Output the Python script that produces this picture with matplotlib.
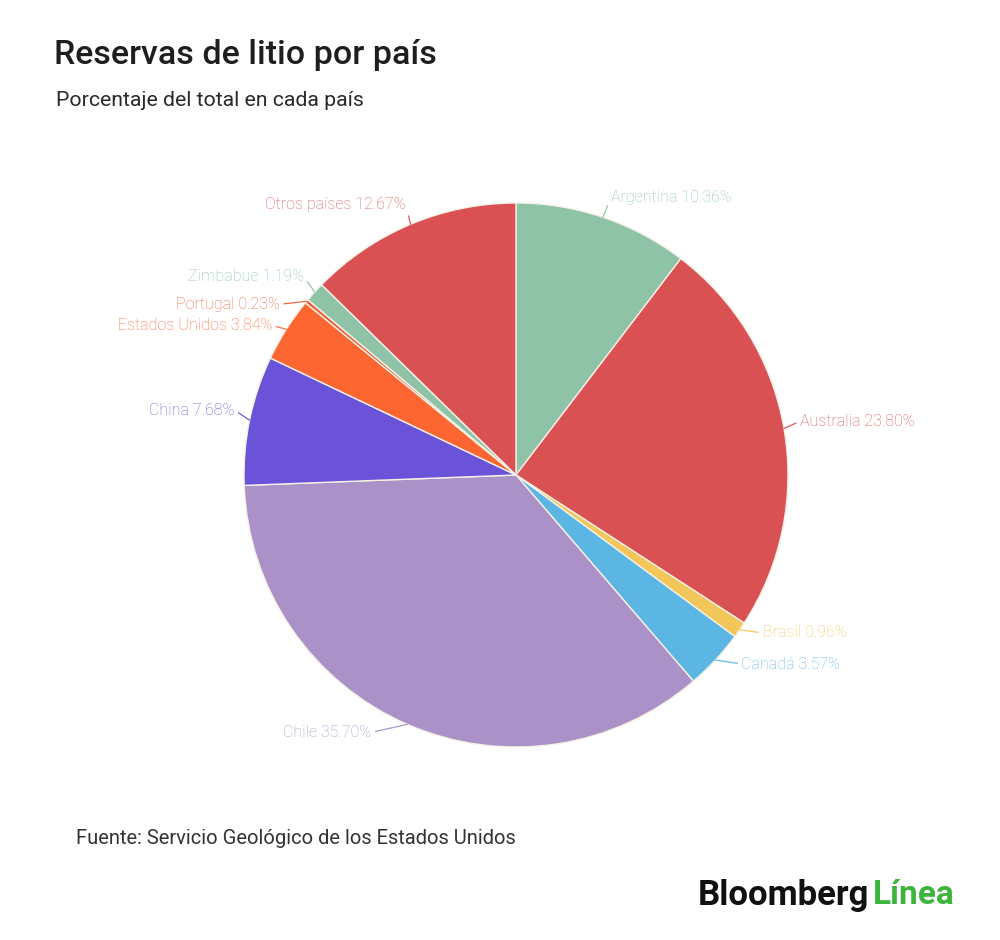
import numpy as np
import matplotlib
matplotlib.use('Agg')
import matplotlib.pyplot as plt
from matplotlib.colors import to_rgb

# Datos: porcentaje de reservas de litio por país
countries = ['Argentina', 'Australia', 'Brasil', 'Canadá', 'Chile', 'China',
             'Estados Unidos', 'Portugal', 'Zimbabue', 'Otros países']
shares = [10.36, 23.80, 0.96, 3.57, 35.70, 7.68, 3.84, 0.23, 1.19, 12.67]

colors = ['#8ec3a7', '#d95153', '#f3c65a', '#5cb6e4', '#aa91c7', '#6a52d9',
          '#fd6631', '#e8613a', '#8ec3a7', '#d95153']

# Desplazamiento de cada etiqueta respecto al borde (px)
label_offsets = [(8, 20), (16, 7), (23, -3), (26, -4), (-36, -8), (-15, 10),
                 (-14, 4), (-27, -3), (-11, 16), (-5, 20)]


def lighten(c, amount=0.2):
    r, g, b = to_rgb(c)
    return (r + (1 - r) * amount, g + (1 - g) * amount, b + (1 - b) * amount)


plt.rcParams['font.family'] = ['Roboto', 'DejaVu Sans']

fig = plt.figure(figsize=(10, 9.4), dpi=100)
fig.patch.set_facecolor('white')

cx, cy, r = 516, 475, 272
ax = fig.add_axes([(cx - r) / 1000, 1 - (cy + r) / 940, 2 * r / 1000, 2 * r / 940])
wedges, _ = ax.pie(shares, colors=colors, startangle=90, counterclock=False,
                   wedgeprops=dict(edgecolor='#f6f0e6', linewidth=1.0))
ax.set_xlim(-1, 1)
ax.set_ylim(-1, 1)
ax.set_aspect('equal')
ax.axis('off')

for w, name, val, col, (dx, dy) in zip(wedges, countries, shares, colors, label_offsets):
    ang = np.deg2rad((w.theta1 + w.theta2) / 2)
    x, y = np.cos(ang), np.sin(ang)
    ha = 'left' if dx > 0 else 'right'
    tc = lighten(col, 0.05)
    ax.annotate(f'{name} {val:.2f}%', xy=(x, y), xytext=(dx, dy),
                textcoords='offset pixels', ha=ha, va='center',
                fontsize=11.5, fontweight='light', color=tc,
                arrowprops=dict(arrowstyle='-', color=tc, lw=0.9,
                                shrinkA=1, shrinkB=0,
                                relpos=(0, 0.5) if ha == 'left' else (1, 0.5)))

fig.text(0.054, 1 - 55 / 940, 'Reservas de litio por país', fontsize=24.5,
         fontweight='medium', color='#1e1e1e', va='center')
fig.text(0.056, 1 - 101 / 940, 'Porcentaje del total en cada país', fontsize=15.3,
         color='#2a2a2a', va='center')
fig.text(0.076, 1 - 838 / 940, 'Fuente: Servicio Geológico de los Estados Unidos',
         fontsize=14.5, color='#333333', va='center')

fig.text(0.869, 1 - 895 / 940, 'Bloomberg', fontsize=25, fontweight='bold',
         color='#111111', ha='right', va='center')
fig.text(0.955, 1 - 895 / 940, 'Línea', fontsize=24, fontweight='bold',
         color='#3db53d', ha='right', va='center')

fig.savefig('out.png', dpi=100, facecolor='white')
